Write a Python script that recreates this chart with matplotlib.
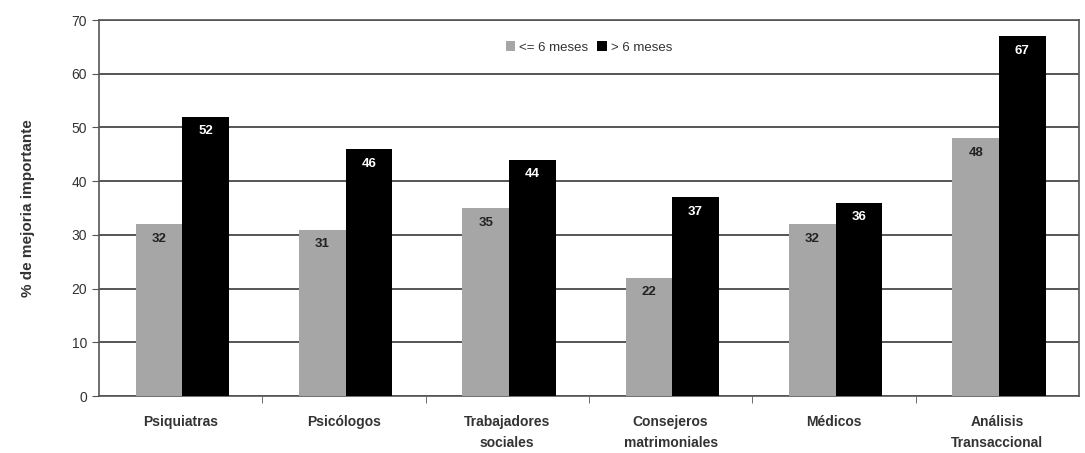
import matplotlib.pyplot as plt
import numpy as np

plt.rcParams['font.family'] = ['Liberation Sans', 'DejaVu Sans']

# Categorías y porcentajes de mejoría importante
categorias = ['Psiquiatras', 'Psicólogos', 'Trabajadores\nsociales',
              'Consejeros\nmatrimoniales', 'Médicos', 'Análisis\nTransaccional']
hasta_6_meses = [32, 31, 35, 22, 32, 48]
mas_6_meses = [52, 46, 44, 37, 36, 67]
leyenda = ['<= 6 meses', '> 6 meses']

fig = plt.figure(figsize=(10.85, 4.53), dpi=100)
ax = fig.add_axes([0.0912, 0.1258, 0.9033, 0.83])

x = np.arange(len(categorias))
ancho = 0.285
b1 = ax.bar(x - ancho / 2 + 0.01, hasta_6_meses, ancho, color='#a6a6a6',
            label=leyenda[0], zorder=3)
b2 = ax.bar(x + ancho / 2 + 0.01, mas_6_meses, ancho, color='black',
            label=leyenda[1], zorder=3)

# Valores dentro de las barras
for barra, v in zip(b1, hasta_6_meses):
    ax.text(barra.get_x() + barra.get_width() / 2, v - 1.6, str(v),
            ha='center', va='top', fontsize=9.5, fontweight='bold', color='#222222', zorder=4)
for barra, v in zip(b2, mas_6_meses):
    ax.text(barra.get_x() + barra.get_width() / 2, v - 1.6, str(v),
            ha='center', va='top', fontsize=9.5, fontweight='bold', color='white', zorder=4)

ax.set_xlim(-0.5, len(categorias) - 0.5)
ax.set_ylim(0, 70)
ax.set_yticks(range(0, 71, 10))
ax.yaxis.grid(True, color='#555555', linewidth=1.4, zorder=1)
ax.tick_params(axis='y', labelsize=10, length=5, color='#555555', labelcolor='#333333')

# Marcas del eje x entre categorías
ax.set_xticks(x)
ax.set_xticklabels(categorias, fontsize=10, fontweight='bold', color='#333333',
                   linespacing=1.55)
ax.tick_params(axis='x', length=0, pad=14)
ax.set_xticks(np.arange(0.5, len(categorias) - 1, 1), minor=True)
ax.tick_params(axis='x', which='minor', length=5, color='#555555')

for lado in ['left', 'right', 'bottom', 'top']:
    ax.spines[lado].set_color('#555555')
    ax.spines[lado].set_linewidth(1.2)

ax.set_ylabel('% de mejoria importante', fontsize=11, fontweight='bold', labelpad=26,
              color='#333333')

leg = ax.legend(loc='upper center', bbox_to_anchor=(0.5, 0.975), ncol=2, frameon=False,
                fontsize=9.5, handlelength=0.7, handletextpad=0.3, columnspacing=0.7)
for t in leg.get_texts():
    t.set_color('#333333')

fig.savefig('out.png', dpi=100)
